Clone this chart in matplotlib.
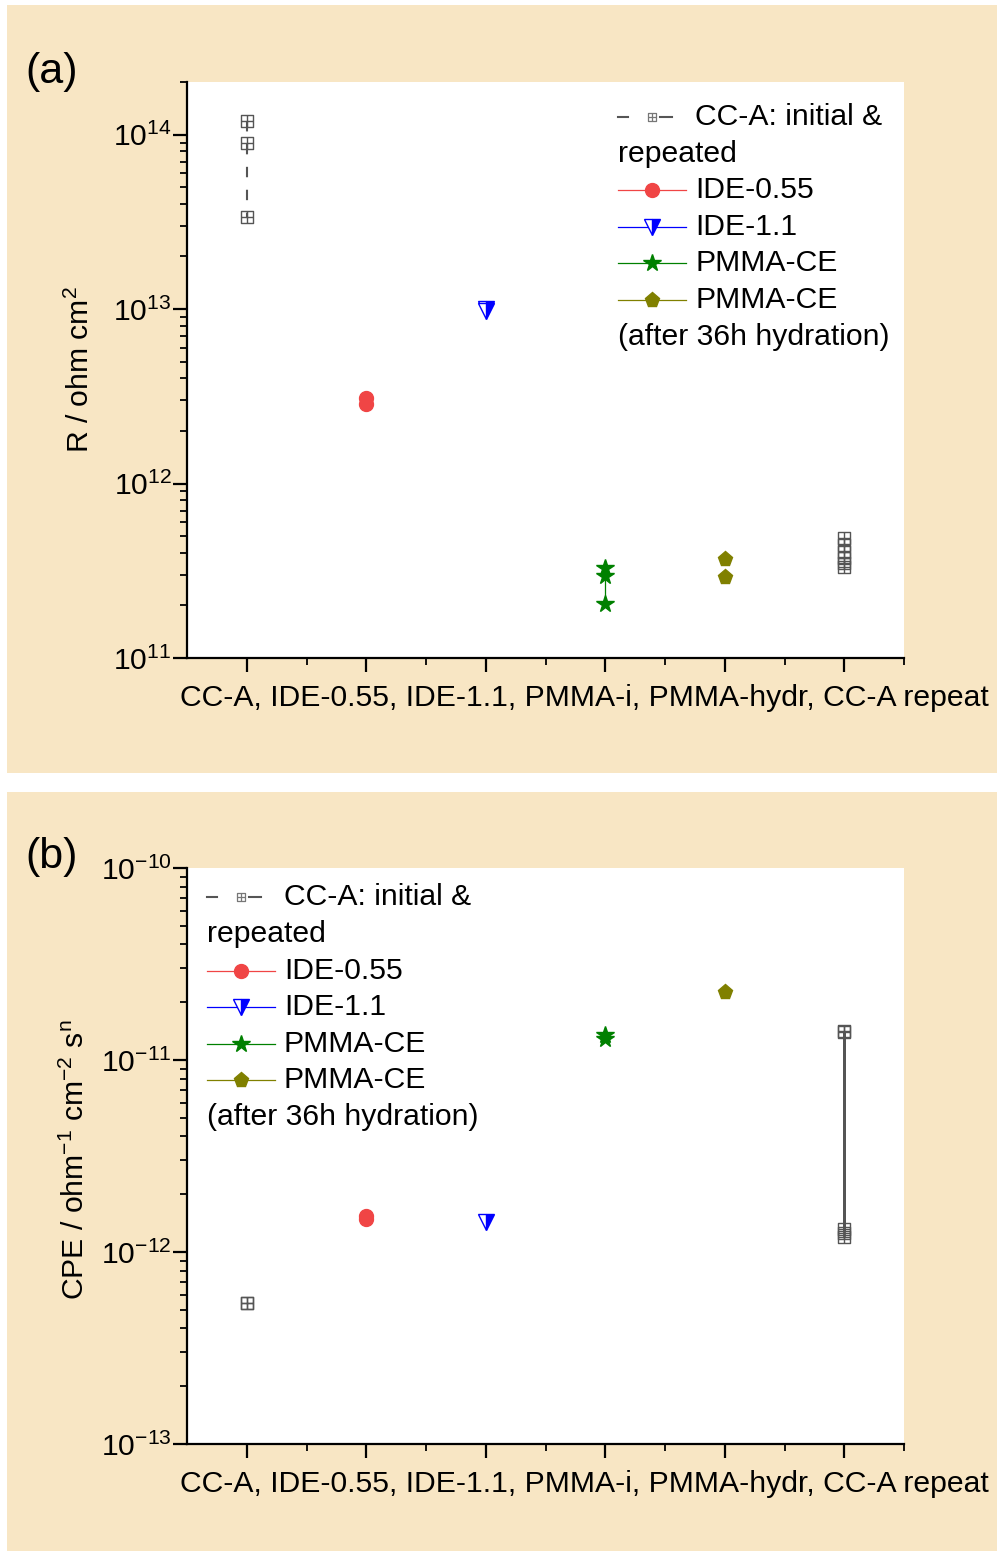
import numpy as np
import matplotlib
matplotlib.use("Agg")
import matplotlib.pyplot as plt
from matplotlib.path import Path
from matplotlib.patches import Rectangle
from matplotlib.lines import Line2D
from matplotlib.ticker import LogLocator, FixedLocator, NullFormatter, FuncFormatter

plt.rcParams['font.family'] = ['Liberation Sans', 'DejaVu Sans']
plt.rcParams['mathtext.fontset'] = 'custom'
plt.rcParams['mathtext.rm'] = 'Liberation Sans'
plt.rcParams['mathtext.it'] = 'Liberation Sans'
plt.rcParams['axes.unicode_minus'] = False

# ---------------- data ----------------
categories = ["CC-A", "IDE-0.55", "IDE-1.1", "PMMA-i", "PMMA-hydr", "CC-A repeat"]
xlabel_text = ", ".join(categories)

R_decades = [11, 12, 13, 14]
R_cca_initial = [1.2e14, 9.0e13, 3.35e13]
R_ide055 = [3.1e12, 2.85e12]
R_ide11 = [1.0e13, 9.7e12]
R_pmma_i = [3.28e11, 2.95e11, 2.04e11]
R_pmma_hydr = [3.7e11, 2.9e11]
R_cca_repeat = [4.9e11, 4.45e11, 4.05e11, 3.75e11, 3.5e11, 3.32e11]

C_decades = [-13, -12, -11, -10]
C_cca_initial = [5.45e-13, 5.40e-13]
C_ide055 = [1.54e-12, 1.49e-12]
C_ide11 = [1.43e-12]
C_pmma_i = [1.35e-11, 1.29e-11]
C_pmma_hydr = [2.26e-11]
C_cca_repeat = [1.42e-11, 1.32e-12, 1.40e-11, 1.26e-12, 1.20e-12]

legend_labels = ["CC-A: initial &", "repeated", "IDE-0.55", "IDE-1.1", "PMMA-CE",
                 "PMMA-CE", "(after 36h hydration)"]

# ---------------- styles ----------------
W, H = 997, 1551
BG = '#F8E6C4'
FS = 21.7

boxplus = Path([(-1, -1), (1, -1), (1, 1), (-1, 1), (-1, -1),
                (-1, 0), (1, 0), (0, -1), (0, 1)],
               [Path.MOVETO, Path.LINETO, Path.LINETO, Path.LINETO, Path.CLOSEPOLY,
                Path.MOVETO, Path.LINETO, Path.MOVETO, Path.LINETO])

sty_cca = dict(color='#555555', marker=boxplus, ms=8, mfc='none', mec='#555555',
               mew=1.0, lw=1.5, ls=(0, (5, 6)))
sty_cca_rep_b = dict(sty_cca, ls=(0, (14, 1.5)), lw=1.8)
sty_ide055 = dict(color='#F04545', marker='o', ms=10, mfc='#F04545', mec='#F04545',
                  lw=0.9, ls='-')
sty_ide11 = dict(color='#0000FF', marker='v', ms=11, mfc='#0000FF', mec='#0000FF',
                 mfcalt='white', fillstyle='right', mew=1.0, lw=0.9, ls='-')
sty_pmma = dict(color='#008000', marker='*', ms=13, mfc='#008000', mec='#008000',
                lw=0.9, ls='-')
sty_hydr = dict(color='#808000', marker='p', ms=11, mfc='#808000', mec='#808000',
                lw=0.9, ls='-')

fig = plt.figure(figsize=(W / 100, H / 100), dpi=100)
fig.patch.set_facecolor('white')


def px_rect(x0, y0, x1, y1):
    return Rectangle((x0 / W, 1 - y1 / H), (x1 - x0) / W, (y1 - y0) / H,
                     transform=fig.transFigure, facecolor=BG, edgecolor='none', zorder=-10)


fig.patches.append(px_rect(7, 5, 997, 773))
fig.patches.append(px_rect(7, 792, 997, 1551))


def log_fmt(v, pos):
    e = int(round(np.log10(v)))
    return r'$\mathregular{10^{%d}}$' % e


def make_axes(top_px, decades):
    ax = fig.add_axes([187 / W, 1 - (top_px + 576) / H, 717 / W, 576 / H])
    ax.set_facecolor('white')
    for s in ['top', 'right']:
        ax.spines[s].set_visible(False)
    for s in ['left', 'bottom']:
        ax.spines[s].set_linewidth(1.6)
    ax.set_yscale('log')
    ax.set_xlim(0.5, 6.5)
    ax.xaxis.set_major_locator(FixedLocator(np.arange(1, len(categories) + 1)))
    ax.xaxis.set_minor_locator(FixedLocator(np.arange(1.5, len(categories) + 1, 1.0)))
    ax.xaxis.set_major_formatter(NullFormatter())
    ax.yaxis.set_major_locator(FixedLocator([10.0 ** d for d in decades]))
    ax.yaxis.set_major_formatter(FuncFormatter(log_fmt))
    ax.yaxis.set_minor_locator(LogLocator(base=10, subs=np.arange(2, 10), numticks=100))
    ax.yaxis.set_minor_formatter(NullFormatter())
    ax.tick_params(which='major', direction='out', length=10, width=1.6, labelsize=FS, pad=1)
    ax.tick_params(which='minor', direction='out', length=5, width=1.3)
    return ax


def plot_group(ax, xpos, vals, sty, draw_line=True):
    s = dict(sty)
    if not draw_line:
        s['ls'] = 'none'
    ax.plot([xpos] * len(vals), vals, clip_on=False, zorder=5, **s)


def draw_legend(x0, rows_y):
    def fx(x):
        return x / W

    def fy(y):
        return 1 - y / H

    hs = 68
    mid = x0 + 34
    tx = x0 + 77
    y = rows_y[0]
    for a, b in [(x0, x0 + 10), (x0 + 42, x0 + 54)]:
        fig.add_artist(Line2D([fx(a), fx(b)], [fy(y), fy(y)], color='#555555', lw=1.5,
                              transform=fig.transFigure))
    fig.add_artist(Line2D([fx(mid)], [fy(y)], ls='none', marker=boxplus, ms=6, mfc='none',
                          mec='#777777', mew=0.9, transform=fig.transFigure))
    fig.text(fx(tx), fy(y), legend_labels[0], fontsize=FS, va='center', ha='left')
    fig.text(fx(x0), fy(rows_y[1]), legend_labels[1], fontsize=FS, va='center', ha='left')
    for i, sty in zip([2, 3, 4, 5], [sty_ide055, sty_ide11, sty_pmma, sty_hydr]):
        y = rows_y[i]
        fig.add_artist(Line2D([fx(x0), fx(x0 + hs)], [fy(y), fy(y)], color=sty['color'],
                              lw=0.9, transform=fig.transFigure))
        s = {k: v for k, v in sty.items() if k not in ('ls', 'lw', 'color')}
        fig.add_artist(Line2D([fx(mid)], [fy(y)], ls='none', transform=fig.transFigure, **s))
        fig.text(fx(tx), fy(y), legend_labels[i], fontsize=FS, va='center', ha='left')
    fig.text(fx(x0), fy(rows_y[6]), legend_labels[6], fontsize=FS, va='center', ha='left')


# ---------------- panel (a) ----------------
ax1 = make_axes(82, R_decades)
ax1.set_ylim(1e11, 2e14)
plot_group(ax1, 1, R_cca_initial, sty_cca)
plot_group(ax1, 2, R_ide055, sty_ide055)
plot_group(ax1, 3, R_ide11, sty_ide11)
plot_group(ax1, 4, R_pmma_i, sty_pmma)
plot_group(ax1, 5, R_pmma_hydr, sty_hydr, draw_line=False)
plot_group(ax1, 6, R_cca_repeat, sty_cca, draw_line=False)

fig.text(180 / W, 1 - 698 / H, xlabel_text, fontsize=FS, ha='left', va='center')
fig.text(80 / W, 1 - 370 / H, r'R / ohm cm$\mathregular{^{2}}$', fontsize=FS, rotation=90,
         ha='center', va='center')
fig.text(25 / W, 1 - 72 / H, '(a)', fontsize=31, ha='left', va='center')
draw_legend(618, [117, 154, 190, 227, 263, 300, 337])

# ---------------- panel (b) ----------------
ax2 = make_axes(868, C_decades)
ax2.set_ylim(1e-13, 1e-10)
plot_group(ax2, 1, C_cca_initial, sty_cca)
plot_group(ax2, 2, C_ide055, sty_ide055)
plot_group(ax2, 3, C_ide11, sty_ide11)
plot_group(ax2, 4, C_pmma_i, sty_pmma)
plot_group(ax2, 5, C_pmma_hydr, sty_hydr)
plot_group(ax2, 6, C_cca_repeat, sty_cca_rep_b)

fig.text(180 / W, 1 - 1484 / H, xlabel_text, fontsize=FS, ha='left', va='center')
fig.text(75 / W, 1 - 1160 / H,
         r'CPE / ohm$\mathregular{^{-1}}$ cm$\mathregular{^{-2}}$ s$\mathregular{^{n}}$',
         fontsize=FS, rotation=90, ha='center', va='center')
fig.text(25 / W, 1 - 857 / H, '(b)', fontsize=31, ha='left', va='center')
draw_legend(207, [897, 934, 971, 1007, 1044, 1080, 1117])

fig.savefig('out.png', dpi=100, facecolor='white')
